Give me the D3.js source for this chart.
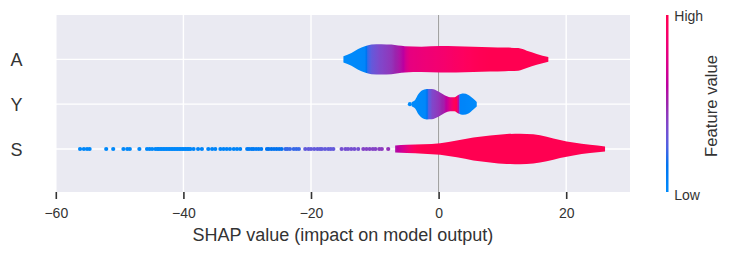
<!DOCTYPE html>
<html><head><meta charset="utf-8">
<script src="https://cdn.jsdelivr.net/npm/d3@7"></script>
<style>
body{margin:0;background:#fff}
svg{display:block}
text{font-family:"Liberation Sans", Arial, sans-serif;}
</style>
</head><body>
<svg id="chart" width="729" height="254"></svg>
<script>
// ---------- data ----------
const features = ["A", "Y", "S"];
const rowPos = [2, 1, 0];
const xTicks = [-60, -40, -20, 0, 20];
const xLabel = "SHAP value (impact on model output)";
const cbarLabels = ["High", "Low"];
const cbarTitle = "Feature value";

// violin outlines: SHAP value and relative density (1 = widest)
const A_x = [-14.92, -13.66, -12.61, -11.56, -10.53, -8.96, -7.39, -5.29, -2.69, 0.24, 2.74, 5.45, 8.07, 10.42, 12.5, 13.82, 15.38, 17.2];
const A_density = [0.2, 0.42, 0.68, 0.86, 0.97, 1.0, 0.97, 0.86, 0.83, 0.87, 0.86, 0.83, 0.8, 0.78, 0.74, 0.57, 0.36, 0.15];
const Y_x = [-4.2, -3.68, -3.16, -2.63, -1.85, -1.07, -0.03, 1.02, 1.8, 2.48, 3.1, 3.89, 4.67, 5.45, 5.98];
const Y_density = [0.15, 0.28, 0.66, 0.89, 1.0, 0.99, 0.83, 0.57, 0.46, 0.46, 0.61, 0.70, 0.61, 0.35, 0.15];
const S_x = [-6.81, -4.98, -2.38, 0.24, 2.85, 5.45, 8.07, 10.68, 12.77, 14.85, 16.95, 19.04, 21.12, 23.74, 26.09];
const S_density = [0.23, 0.27, 0.31, 0.38, 0.55, 0.75, 0.88, 0.98, 1.0, 0.96, 0.81, 0.59, 0.42, 0.27, 0.16];

// smoothed feature value (0 = low, 1 = high) along each violin
const A_colorX = [-14.9, -11.6, -11.2, -10.5, -9.2, -7.4, -6.5, -5.5, -5.1, -4.5, -2.5, 0, 3, 6, 8, 17.2];
const A_colorVal = [0, 0.03, 0.2, 0.3, 0.38, 0.45, 0.52, 0.6, 0.7, 0.78, 0.82, 0.86, 0.92, 0.98, 1, 1];
const Y_colorX = [-4.2, -2.1, -1.6, -1.0, 0, 0.8, 1.4, 1.9, 2.4, 2.8, 3.1, 3.4, 6.0];
const Y_colorVal = [0, 0.02, 0.25, 0.38, 0.45, 0.52, 0.65, 0.8, 0.95, 1.0, 0.6, 0.05, 0];
const S_colorX = [-6.8, -6.0, -5.0, -4.2, -3.5, -2.5, 26.1];
const S_colorVal = [0.55, 0.65, 0.78, 0.9, 0.97, 1, 1];

// individual points visible outside the violins
const Y_dotX = [-4.5];
const Y_dotVal = [0];
const S_dotX = [-56.2, -55.6, -55.1, -54.7, -52.1, -51.0, -49.4, -48.8, -48.4, -46.9, -45.7, -45.3, -44.9, -44.4, -44.1,
  -43.9, -43.65, -43.4, -43.15, -42.9, -42.65, -42.4, -42.15, -41.9, -41.65, -41.4, -41.15, -40.9, -40.65, -40.4, -40.15, -39.9, -39.65, -39.4, -39.15, -38.9,
  -38.4, -37.7, -37.1, -36.1, -35.5, -35.0, -34.2, -33.7, -33.2, -32.7, -32.1, -31.6, -31.1,
  -30.0, -29.7, -29.3, -29.0, -28.6, -28.2, -27.8,
  -26.9, -26.6, -26.2, -25.8, -25.4, -25.0, -24.6,
  -24.0, -23.7, -23.3, -22.7, -22.3, -21.9,
  -20.9, -20.4, -20.0, -19.5, -19.0, -18.6, -18.3, -17.8, -17.3, -16.9, -16.5,
  -15.2, -14.6, -14.2, -13.7, -13.2, -12.6,
  -11.8, -11.3, -10.8, -10.3, -9.9,
  -9.3, -8.9, -7.9];
const S_dotVal = [0.02, 0.02, 0.02, 0.02, 0.02, 0.02, 0.02, 0.02, 0.02, 0.02, 0.02, 0.02, 0.02, 0.02, 0.02,
  0.02, 0.02, 0.02, 0.02, 0.02, 0.02, 0.02, 0.02, 0.02, 0.02, 0.02, 0.02, 0.02, 0.02, 0.02, 0.02, 0.02, 0.02, 0.02, 0.02, 0.02,
  0.04, 0.04, 0.04, 0.04, 0.04, 0.04, 0.04, 0.04, 0.04, 0.04, 0.04, 0.04, 0.04,
  0.1, 0.1, 0.1, 0.1, 0.1, 0.1, 0.1,
  0.16, 0.16, 0.16, 0.16, 0.16, 0.16, 0.16,
  0.22, 0.22, 0.22, 0.22, 0.22, 0.22,
  0.3, 0.3, 0.3, 0.3, 0.3, 0.3, 0.3, 0.3, 0.3, 0.3, 0.3,
  0.35, 0.35, 0.35, 0.35, 0.35, 0.35,
  0.4, 0.4, 0.4, 0.4, 0.4,
  0.42, 0.43, 0.46];

const violins = [
  {name: "A", pos: 2, xs: A_x, ds: A_density, cx: A_colorX, cv: A_colorVal, dx: [], dv: []},
  {name: "Y", pos: 1, xs: Y_x, ds: Y_density, cx: Y_colorX, cv: Y_colorVal, dx: Y_dotX, dv: Y_dotVal},
  {name: "S", pos: 0, xs: S_x, ds: S_density, cx: S_colorX, cv: S_colorVal, dx: S_dotX, dv: S_dotVal}
];

// ---------- shap red_blue colormap (LCH) ----------
function redBlue(t) {
  t = Math.max(0, Math.min(1, t));
  const L = t < 0.5 ? 54 + (40 - 54) * (t / 0.5) : 40 + (54 - 40) * ((t - 0.5) / 0.5);
  const C = 70 + 20 * t;
  const H = 4.6588 + (0.35470565 + 2 * Math.PI - 4.6588) * t;
  const a = C * Math.cos(H), b = C * Math.sin(H);
  const fy = (L + 16) / 116, fx = fy + a / 500, fz = fy - b / 200;
  const finv = f => f > 6 / 29 ? f * f * f : 3 * (6 / 29) * (6 / 29) * (f - 4 / 29);
  const X = 0.95047 * finv(fx), Y = finv(fy), Z = 1.08883 * finv(fz);
  const r = 3.2406 * X - 1.5372 * Y - 0.4986 * Z;
  const g = -0.9689 * X + 1.8758 * Y + 0.0415 * Z;
  const bl = 0.0557 * X - 0.2040 * Y + 1.0570 * Z;
  const gam = c => { c = Math.max(0, Math.min(1, c)); return c <= 0.0031308 ? 12.92 * c : 1.055 * Math.pow(c, 1 / 2.4) - 0.055; };
  return d3.rgb(gam(r) * 255, gam(g) * 255, gam(bl) * 255).formatHex();
}

// ---------- layout ----------
const svg = d3.select("#chart");
const plot = {left: 55.8, right: 630, top: 15, bottom: 192};
const x = d3.scaleLinear().domain([-60, 30]).range([plot.left, plot.right]);
const y = d3.scaleLinear().domain([-0.96, 2.99]).range([plot.bottom, plot.top]);
const halfMax = 0.34; // widest half-width in row units
const textColor = "#333333";
const defs = svg.append("defs");

svg.append("rect").attr("x", plot.left).attr("y", plot.top)
  .attr("width", plot.right - plot.left).attr("height", plot.bottom - plot.top)
  .attr("fill", "#EAEAF2");

const grid = svg.append("g");
grid.selectAll("line.v").data(xTicks).join("line").attr("class", "v")
  .attr("x1", d => x(d)).attr("x2", d => x(d))
  .attr("y1", plot.top).attr("y2", plot.bottom)
  .attr("stroke", "#fff").attr("stroke-width", 1.4);
grid.selectAll("line.h").data(rowPos).join("line").attr("class", "h")
  .attr("x1", plot.left).attr("x2", plot.right)
  .attr("y1", d => y(d)).attr("y2", d => y(d))
  .attr("stroke", "#fff").attr("stroke-width", 1.4);

svg.append("line").attr("x1", x(0)).attr("x2", x(0))
  .attr("y1", plot.top).attr("y2", plot.bottom)
  .attr("stroke", "#999999").attr("stroke-width", 1);

// dots
violins.forEach(v => {
  svg.append("g").selectAll("circle").data(v.dx).join("circle")
    .attr("cx", d => x(d)).attr("cy", y(v.pos)).attr("r", 2.1)
    .attr("fill", (d, i) => redBlue(v.dv[i]));
});

// violins
violins.forEach(v => {
  const x1 = x(v.xs[0]), x2 = x(v.xs[v.xs.length - 1]);
  const grad = defs.append("linearGradient").attr("id", "g" + v.name)
    .attr("gradientUnits", "userSpaceOnUse")
    .attr("x1", x1).attr("x2", x2).attr("y1", 0).attr("y2", 0);
  const stops = [];
  for (let i = 0; i < v.cx.length; i++) {
    if (i === 0) { stops.push([v.cx[0], v.cv[0]]); continue; }
    const steps = 8;
    for (let k = 1; k <= steps; k++) {
      const f = k / steps;
      stops.push([v.cx[i - 1] + (v.cx[i] - v.cx[i - 1]) * f, v.cv[i - 1] + (v.cv[i] - v.cv[i - 1]) * f]);
    }
  }
  grad.selectAll("stop").data(stops).join("stop")
    .attr("offset", d => Math.max(0, Math.min(1, (x(d[0]) - x1) / (x2 - x1))))
    .attr("stop-color", d => redBlue(d[1]));
  const pts = v.xs.map((d, i) => [d, v.ds[i]]);
  const area = d3.area()
    .x(d => x(d[0]))
    .y0(d => y(v.pos - d[1] * halfMax))
    .y1(d => y(v.pos + d[1] * halfMax))
    .curve(d3.curveMonotoneX);
  svg.append("path").datum(pts).attr("d", area).attr("fill", "url(#g" + v.name + ")");
});

// x axis
const axis = svg.append("g").attr("transform", `translate(0,${plot.bottom})`)
  .call(d3.axisBottom(x).tickValues(xTicks).tickSize(7).tickPadding(9));
axis.select(".domain").remove();
axis.selectAll(".tick line").attr("stroke", textColor).attr("stroke-width", 1.6);
axis.selectAll(".tick text").attr("fill", textColor).style("font-size", "14px")
  .style("font-family", '"Liberation Sans", Arial, sans-serif');

svg.append("text").attr("x", (plot.left + plot.right) / 2).attr("y", 241)
  .attr("text-anchor", "middle").attr("fill", textColor).style("font-size", "18px").text(xLabel);

// y labels
svg.append("g").selectAll("text").data(features).join("text")
  .attr("x", 22.5).attr("y", (d, i) => y(rowPos[i]) + 7)
  .attr("text-anchor", "end").attr("fill", textColor).style("font-size", "18px")
  .text(d => d);

// colorbar
const cb = {x: 666, w: 2.5, top: 15, bottom: 192};
const cbGrad = defs.append("linearGradient").attr("id", "cbar")
  .attr("x1", 0).attr("x2", 0).attr("y1", 1).attr("y2", 0);
cbGrad.selectAll("stop").data(d3.range(0, 1.0001, 0.05)).join("stop")
  .attr("offset", d => d).attr("stop-color", d => redBlue(d));
svg.append("rect").attr("x", cb.x).attr("y", cb.top).attr("width", cb.w)
  .attr("height", cb.bottom - cb.top).attr("fill", "url(#cbar)");
svg.append("text").attr("x", 674.3).attr("y", 21).attr("fill", textColor)
  .style("font-size", "14px").text(cbarLabels[0]);
svg.append("text").attr("x", 674.3).attr("y", 200).attr("fill", textColor)
  .style("font-size", "14px").text(cbarLabels[1]);
svg.append("text").attr("transform", "translate(716.5,106) rotate(-90)")
  .attr("text-anchor", "middle").attr("fill", textColor)
  .style("font-size", "16.7px").text(cbarTitle);
</script>
</body></html>
